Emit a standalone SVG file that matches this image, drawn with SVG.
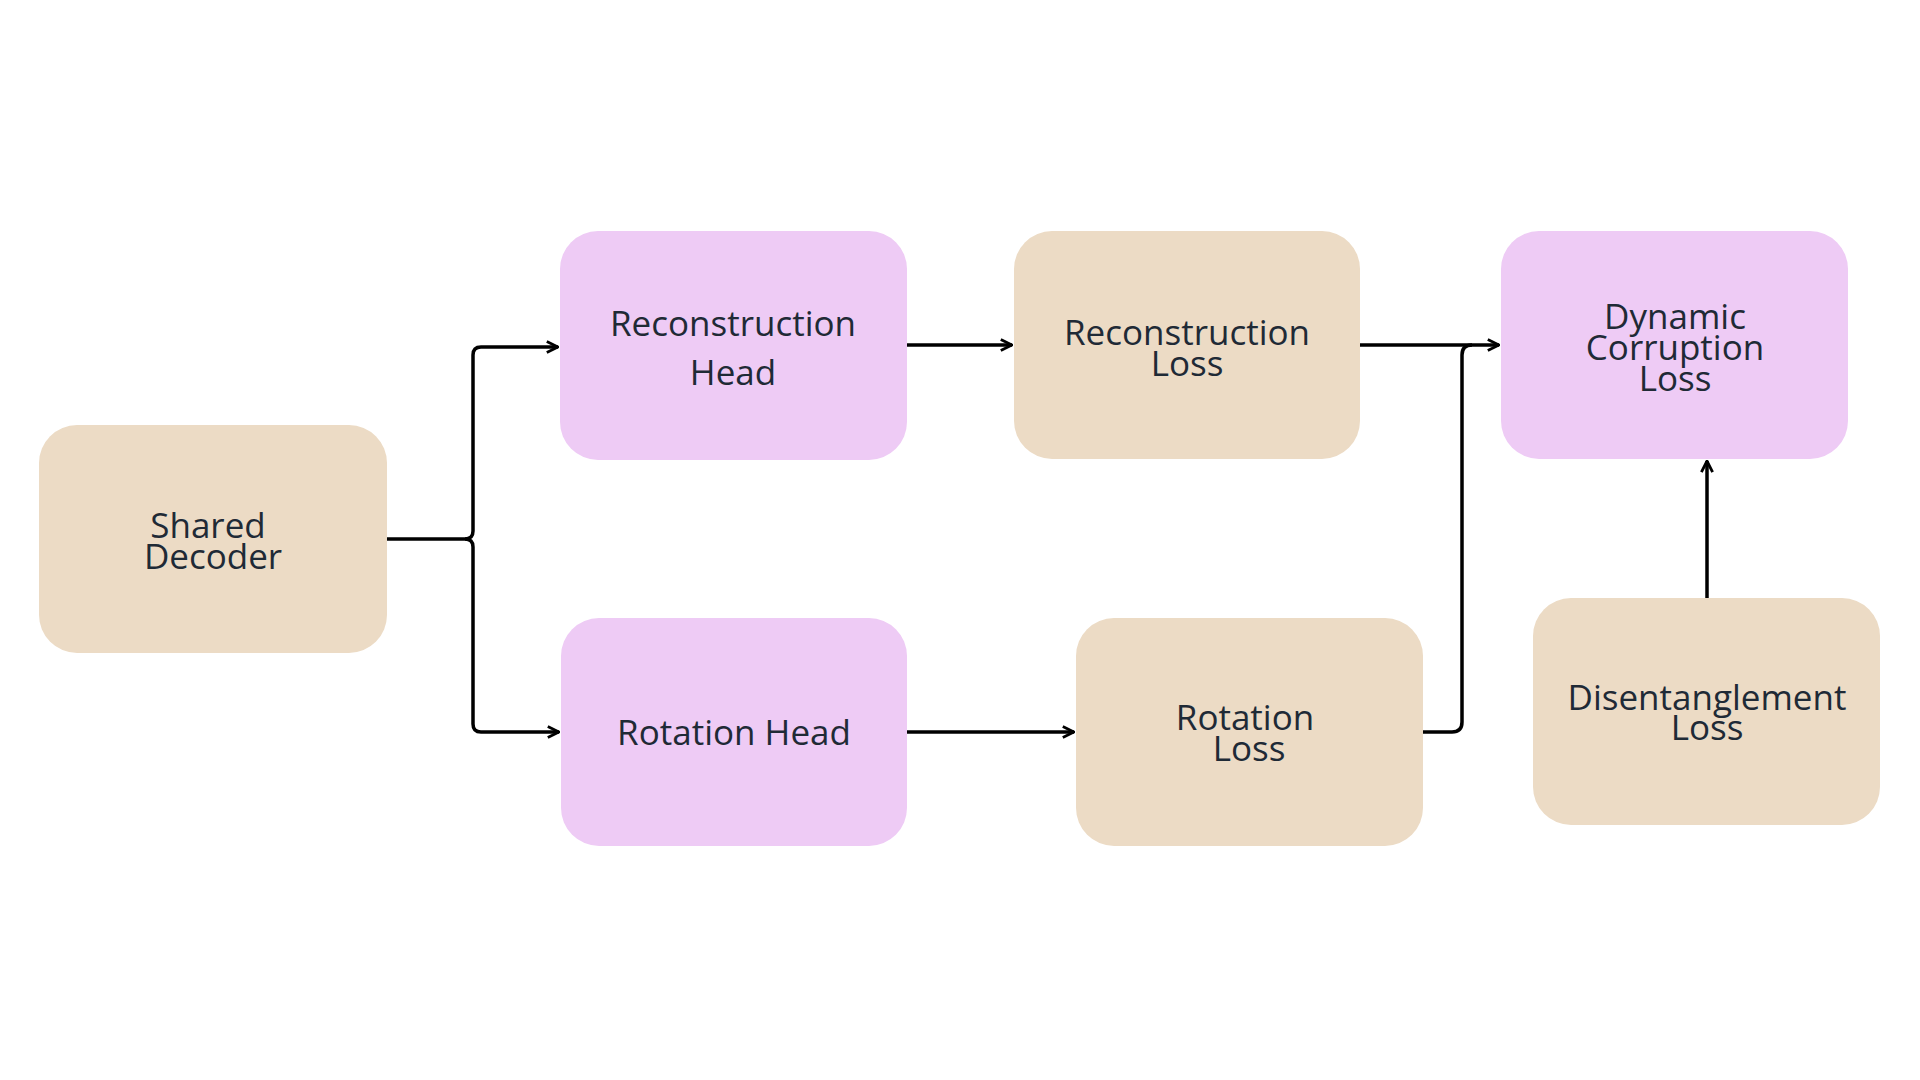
<svg xmlns="http://www.w3.org/2000/svg" width="1920" height="1080" viewBox="0 0 1920 1080">
<style>
.tan{fill:#ecdbc5}.pink{fill:#eecbf5}
text{font-family:"Open Sans","Liberation Sans",sans-serif;font-size:35px;fill:#1f2a36;text-anchor:middle;dominant-baseline:central}
.c{fill:none;stroke:#000;stroke-width:3.5}
</style>
<defs><marker id="a" viewBox="0 0 10 10" refX="9" refY="5" markerWidth="4" markerHeight="4" orient="auto"><path d="M1 1L9 5L1 9" fill="none" stroke="#000" stroke-width="2"/></marker></defs>
<rect width="1920" height="1080" fill="#fff"/>
<g id="connectors">
<path class="c" d="M387 539H465Q473 539 473 531V355Q473 347 481 347H558" marker-end="url(#a)"/>
<path class="c" d="M465 539Q473 539 473 547V724Q473 732 481 732H559" marker-end="url(#a)"/>
<path class="c" d="M907 345H1012" marker-end="url(#a)"/>
<path class="c" d="M1360 345H1499" marker-end="url(#a)"/>
<path class="c" d="M907 732H1074" marker-end="url(#a)"/>
<path class="c" d="M1423 732H1452Q1462 732 1462 722V355Q1462 345 1472 345"/>
<path class="c" d="M1707 598V461" marker-end="url(#a)"/>
</g>
<g id="shared"><rect class="tan" x="39" y="425" width="348" height="228" rx="38"/><text x="208" y="524">Shared</text><text x="213" y="555">Decoder</text></g>
<g id="rechead"><rect class="pink" x="560" y="231" width="347" height="229" rx="38"/><text x="733" y="322">Reconstruction</text><text x="733" y="371">Head</text></g>
<g id="recloss"><rect class="tan" x="1014" y="231" width="346" height="228" rx="38"/><text x="1187" y="331">Reconstruction</text><text x="1187" y="362">Loss</text></g>
<g id="dcl"><rect class="pink" x="1501" y="231" width="347" height="228" rx="38"/><text x="1675" y="315">Dynamic</text><text x="1675" y="346">Corruption</text><text x="1675" y="377">Loss</text></g>
<g id="rothead"><rect class="pink" x="561" y="618" width="346" height="228" rx="38"/><text x="734" y="731">Rotation Head</text></g>
<g id="rotloss"><rect class="tan" x="1076" y="618" width="347" height="228" rx="38"/><text x="1245" y="716">Rotation</text><text x="1249" y="747">Loss</text></g>
<g id="dis"><rect class="tan" x="1533" y="598" width="347" height="227" rx="38"/><text x="1707" y="696">Disentanglement</text><text x="1707" y="726">Loss</text></g>
</svg>
